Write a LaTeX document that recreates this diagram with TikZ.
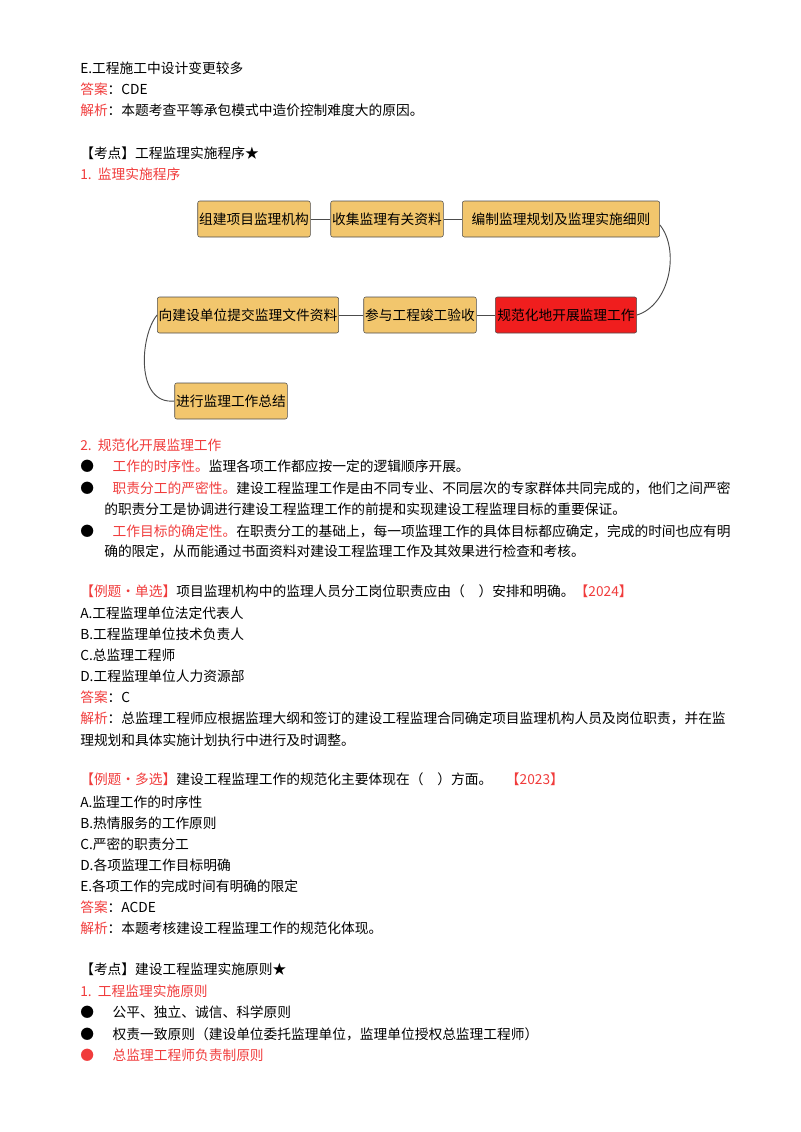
\documentclass[tikz,border=0pt]{standalone}
\usepackage{fontspec}
\setmainfont{Noto Sans CJK SC}
\begin{document}
\begin{tikzpicture}[x=0.75pt,y=-0.75pt,
  t/.style={anchor=west,inner sep=0pt,font=\fontsize{10.3pt}{12pt}\selectfont},
  box/.style={draw=black!70,fill=boxc,rounded corners=1.5pt,minimum height=27pt,inner sep=1pt,font=\fontsize{10.3pt}{12pt}\selectfont},
  lk/.style={draw=black!70,line width=0.7pt}]
\definecolor{boxc}{HTML}{F2C66D}
\definecolor{rd}{HTML}{F03C3C}
\definecolor{bred}{HTML}{F01E1E}
\useasboundingbox (0,0) rectangle (800,1132);
\node[t] (l1) at (80,68) {E.工程施工中设计变更较多};
\node[t] (l2) at (80,89) {\textcolor{rd}{答案}：CDE};
\node[t] (l3) at (80,110) {\textcolor{rd}{解析}：本题考查平等承包模式中造价控制难度大的原因。};
\node[t] (l4) at (80,153) {【考点】工程监理实施程序★};
\node[t] (l5) at (80,174) {\textcolor{rd}{1.\ \ 监理实施程序}};
% flowchart
\node[box,minimum width=81pt] (b1) at (254,219) {组建项目监理机构};
\node[box,minimum width=82pt] (b2) at (387,219) {收集监理有关资料};
\node[box,minimum width=148pt] (b3) at (561,219) {编制监理规划及监理实施细则};
\node[box,minimum width=135pt] (b4) at (248,315) {向建设单位提交监理文件资料};
\node[box,minimum width=84pt] (b5) at (420,315) {参与工程竣工验收};
\node[box,minimum width=106pt,fill=bred] (b6) at (566,315) {规范化地开展监理工作};
\node[box,minimum width=80pt] (b7) at (231,401) {进行监理工作总结};
\draw[lk] (b1) -- (b2);
\draw[lk] (b2) -- (b3);
\draw[lk] (b3.east) ++(0,6) coordinate (c1);
\draw[lk] (c1) .. controls (680,250) and (670,305) .. (b6.east);
\draw[lk] (b6) -- (b5);
\draw[lk] (b5) -- (b4);
\draw[lk] (b4.west) .. controls (140,335) and (135,405) .. (b7.west);
% section 2
\node[t] (m1) at (80,445) {\textcolor{rd}{2.\ \ 规范化开展监理工作}};
\node[t] (m2) at (80,466) {●\hspace{14pt}\textcolor{rd}{工作的时序性。}监理各项工作都应按一定的逻辑顺序开展。};
\node[t] (m3) at (80,488) {●\hspace{14pt}\textcolor{rd}{职责分工的严密性。}建设工程监理工作是由不同专业、不同层次的专家群体共同完成的，他们之间严密};
\node[t] (m4) at (104,509) {的职责分工是协调进行建设工程监理工作的前提和实现建设工程监理目标的重要保证。};
\node[t] (m5) at (80,531) {●\hspace{14pt}\textcolor{rd}{工作目标的确定性。}在职责分工的基础上，每一项监理工作的具体目标都应确定，完成的时间也应有明};
\node[t] (m6) at (104,551) {确的限定，从而能通过书面资料对建设工程监理工作及其效果进行检查和考核。};
% example 1
\node[t] (e1) at (80,591) {\textcolor{rd}{【例题·单选】}项目监理机构中的监理人员分工岗位职责应由（\quad）安排和明确。\textcolor{rd}{【2024】}};
\node[t] (e2) at (80,613) {A.工程监理单位法定代表人};
\node[t] (e3) at (80,634) {B.工程监理单位技术负责人};
\node[t] (e4) at (80,655) {C.总监理工程师};
\node[t] (e5) at (80,676) {D.工程监理单位人力资源部};
\node[t] (e6) at (80,697) {\textcolor{rd}{答案}：C};
\node[t] (e7) at (80,718) {\textcolor{rd}{解析}：总监理工程师应根据监理大纲和签订的建设工程监理合同确定项目监理机构人员及岗位职责，并在监};
\node[t] (e8) at (80,740) {理规划和具体实施计划执行中进行及时调整。};
% example 2
\node[t] (f1) at (80,779) {\textcolor{rd}{【例题·多选】}建设工程监理工作的规范化主要体现在（\quad）方面。\quad\textcolor{rd}{【2023】}};
\node[t] (f2) at (80,802) {A.监理工作的时序性};
\node[t] (f3) at (80,823) {B.热情服务的工作原则};
\node[t] (f4) at (80,844) {C.严密的职责分工};
\node[t] (f5) at (80,865) {D.各项监理工作目标明确};
\node[t] (f6) at (80,886) {E.各项工作的完成时间有明确的限定};
\node[t] (f7) at (80,907) {\textcolor{rd}{答案}：ACDE};
\node[t] (f8) at (80,928) {\textcolor{rd}{解析}：本题考核建设工程监理工作的规范化体现。};
% section 3
\node[t] (g1) at (80,969) {【考点】建设工程监理实施原则★};
\node[t] (g2) at (80,991) {\textcolor{rd}{1.\ \ 工程监理实施原则}};
\node[t] (g3) at (80,1012) {●\hspace{14pt}公平、独立、诚信、科学原则};
\node[t] (g4) at (80,1034) {●\hspace{14pt}权责一致原则（建设单位委托监理单位，监理单位授权总监理工程师）};
\node[t] (g5) at (80,1055) {\textcolor{rd}{●\hspace{14pt}总监理工程师负责制原则}};
\end{tikzpicture}
\end{document}
